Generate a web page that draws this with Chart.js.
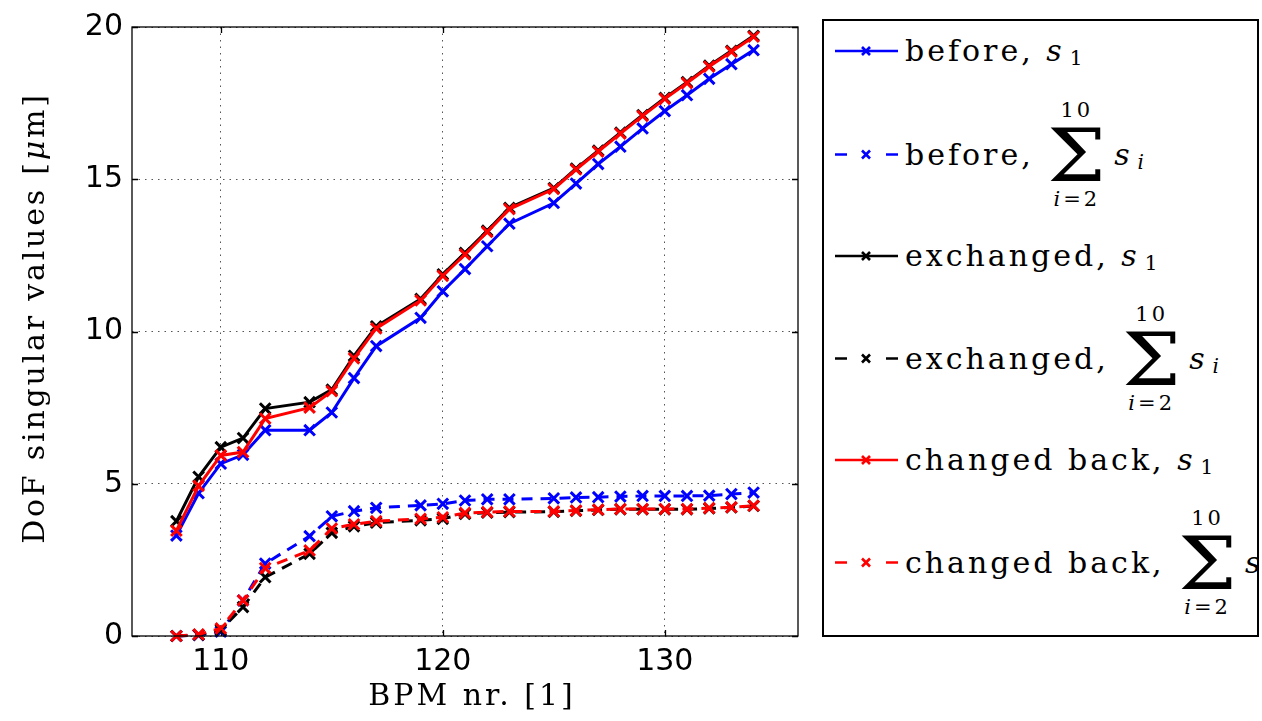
<!DOCTYPE html>
<html lang="en">
<head>
<meta charset="UTF-8">
<title>DoF singular values</title>
<script src="https://cdn.jsdelivr.net/npm/chart.js"></script>
<style>
    body {
        margin: 0;
        width: 1262px;
        height: 721px;
        overflow: hidden;
        position: relative;
        background: #fff;
        font-family: "DejaVu Serif", serif;
        color: #000;
    }
    #chart {
        position: absolute;
        left: 0;
        top: 0;
    }
    .axis-title {
        position: absolute;
        font-size: 30px;
        line-height: 1;
        letter-spacing: 3px;
        white-space: nowrap;
        text-align: center;
    }
    #xtitle {
        left: 272px;
        width: 400px;
        top: 680px;
    }
    #ytitle {
        left: -266px;
        top: 298px;
        width: 600px;
        height: 40px;
        line-height: 40px;
        letter-spacing: 2.8px;
        transform: rotate(-90deg);
    }
    #legend {
        position: absolute;
        left: 822px;
        top: 19px;
        width: 437px;
        height: 618px;
        border: 2px solid #000;
        box-sizing: border-box;
        overflow: hidden;
    }
    .row {
        position: absolute;
        left: 11px;
        display: flex;
        align-items: center;
        transform: translateY(-50%);
        white-space: nowrap;
        font-size: 30px;
        line-height: 1;
        letter-spacing: 3px;
    }
    .row svg {
        margin-right: 7px;
    }
    .sub {
        font-size: 20px;
        letter-spacing: 0;
        position: relative;
        top: 7px;
        margin-left: 5px;
    }
    .sum {
        display: inline-flex;
        flex-direction: column;
        align-items: center;
        letter-spacing: 0;
        margin: 0 12px 0 5px;
    }
    .lim {
        font-size: 21px;
        letter-spacing: 3px;
        line-height: 22px;
    }
    .sig {
        display: block;
        font-size: 72px;
        height: 54px;
        line-height: 54px;
        margin: 7px 0 6px 0;
        position: relative;
        top: 1px;
        transform: scaleX(1.15);
    }
</style>
</head>
<body>
<canvas id="chart" width="810" height="721"></canvas>
<div id="xtitle" class="axis-title">BPM nr. [1]</div>
<div id="ytitle" class="axis-title">DoF singular values [<i>μ</i>m]</div>
<div id="legend"></div>
<script>
    // BPM numbers (113, 118 and 124 are missing in the data)
    const bpm = [108, 109, 110, 111, 112, 114, 115, 116, 117, 119, 120, 121, 122, 123, 125, 126, 127, 128, 129, 130, 131, 132, 133, 134];

    const beforeS1 = [3.30, 4.69, 5.66, 5.95, 6.76, 6.76, 7.34, 8.47, 9.52, 10.45, 11.32, 12.05, 12.80, 13.54, 14.22, 14.86, 15.50, 16.07, 16.67, 17.24, 17.76, 18.30, 18.78, 19.24];
    const beforeSum = [0.00, 0.03, 0.14, 1.17, 2.38, 3.28, 3.93, 4.10, 4.21, 4.29, 4.34, 4.45, 4.49, 4.49, 4.52, 4.55, 4.56, 4.58, 4.60, 4.60, 4.60, 4.61, 4.66, 4.71];
    const exchangedS1 = [3.77, 5.23, 6.20, 6.50, 7.47, 7.68, 8.09, 9.20, 10.17, 11.07, 11.88, 12.58, 13.31, 14.06, 14.71, 15.35, 15.94, 16.53, 17.11, 17.67, 18.19, 18.73, 19.22, 19.71];
    const exchangedSum = [0.00, 0.04, 0.20, 0.95, 1.93, 2.70, 3.39, 3.60, 3.72, 3.80, 3.85, 4.01, 4.05, 4.07, 4.08, 4.11, 4.14, 4.16, 4.16, 4.16, 4.16, 4.19, 4.22, 4.27];
    const backS1 = [3.46, 4.93, 5.93, 6.04, 7.14, 7.50, 8.04, 9.12, 10.10, 11.02, 11.83, 12.53, 13.27, 14.02, 14.68, 15.32, 15.91, 16.50, 17.08, 17.64, 18.16, 18.70, 19.19, 19.68];
    const backSum = [0.00, 0.05, 0.25, 1.17, 2.23, 2.81, 3.53, 3.67, 3.77, 3.85, 3.90, 4.04, 4.07, 4.09, 4.09, 4.12, 4.15, 4.17, 4.17, 4.17, 4.17, 4.20, 4.23, 4.28];

    const xTicks = [110, 120, 130];
    const yTicks = [0, 5, 10, 15, 20];

    // label, values, colour, dashed, sum-type label
    const seriesList = [
        ['before', beforeS1, '#0000ff', false, false],
        ['before', beforeSum, '#0000ff', true, true],
        ['exchanged', exchangedS1, '#000000', false, false],
        ['exchanged', exchangedSum, '#000000', true, true],
        ['changed back', backS1, '#ff0000', false, false],
        ['changed back', backSum, '#ff0000', true, true]
    ];

    // later series on top, like the original plot
    const datasets = seriesList.map((s, i) => ({
        label: s[0],
        data: bpm.map((b, k) => ({ x: b, y: s[1][k] })),
        borderColor: s[2],
        backgroundColor: s[2],
        borderWidth: 3,
        borderDash: s[3] ? [11, 8] : [],
        pointStyle: 'crossRot',
        pointRadius: 7.5,
        pointBorderWidth: 3,
        pointBorderColor: s[2],
        pointHoverRadius: 7.5,
        tension: 0,
        clip: false,
        order: seriesList.length - i
    }));

    // axes box with inward ticks on all four sides
    const boxPlugin = {
        id: 'box',
        afterDatasetsDraw(chart) {
            const ctx = chart.ctx;
            const a = chart.chartArea;
            const x = chart.scales.x;
            const y = chart.scales.y;
            const len = 6;
            ctx.save();
            ctx.strokeStyle = '#000';
            ctx.lineWidth = 1.3;
            ctx.setLineDash([]);
            ctx.strokeRect(a.left, a.top, a.right - a.left, a.bottom - a.top);
            ctx.beginPath();
            xTicks.forEach(v => {
                const px = Math.round(x.getPixelForValue(v)) + 0.5;
                ctx.moveTo(px, a.bottom); ctx.lineTo(px, a.bottom - len);
                ctx.moveTo(px, a.top); ctx.lineTo(px, a.top + len);
            });
            yTicks.forEach(v => {
                const py = Math.round(y.getPixelForValue(v)) + 0.5;
                ctx.moveTo(a.left, py); ctx.lineTo(a.left + len, py);
                ctx.moveTo(a.right, py); ctx.lineTo(a.right - len, py);
            });
            ctx.stroke();
            ctx.restore();
        }
    };

    const tickFont = { family: 'DejaVu Sans', size: 30 };
    const gridOpts = { color: '#555', lineWidth: 1, drawTicks: false };

    new Chart(document.getElementById('chart'), {
        type: 'line',
        data: { datasets: datasets },
        options: {
            responsive: false,
            animation: false,
            events: [],
            layout: { padding: { left: 0, right: 12, top: 21, bottom: 0 } },
            plugins: {
                legend: { display: false },
                tooltip: { enabled: false }
            },
            scales: {
                x: {
                    type: 'linear',
                    min: 106,
                    max: 136,
                    afterBuildTicks: axis => { axis.ticks = xTicks.map(v => ({ value: v })); },
                    afterFit: axis => { axis.height = 85; },
                    grid: gridOpts,
                    border: { display: false, dash: [1.5, 5] },
                    ticks: { font: tickFont, color: '#000', padding: 8, maxRotation: 0 }
                },
                y: {
                    min: 0,
                    max: 20,
                    afterBuildTicks: axis => { axis.ticks = yTicks.map(v => ({ value: v })); },
                    afterFit: axis => { axis.width = 132; },
                    grid: gridOpts,
                    border: { display: false, dash: [1.5, 5] },
                    ticks: { font: tickFont, color: '#000', padding: 9 }
                }
            }
        },
        plugins: [boxPlugin]
    });

    // legend drawn as html because of the sum notation
    const rowY = [51, 154, 256, 358, 460, 562];
    const legend = document.getElementById('legend');
    seriesList.forEach((s, i) => {
        const row = document.createElement('div');
        row.className = 'row';
        row.style.top = (rowY[i] - 21) + 'px';
        const c = s[2];
        const line = s[3]
            ? `<line x1="0" y1="8" x2="12" y2="8"/><line x1="51" y1="8" x2="63" y2="8"/>`
            : `<line x1="0" y1="8" x2="63" y2="8"/>`;
        const svg = `<svg width="63" height="16" stroke="${c}" stroke-width="2.6">${line}` +
            `<line x1="27" y1="4" x2="35" y2="12"/><line x1="27" y1="12" x2="35" y2="4"/></svg>`;
        const math = s[4]
            ? `<span class="sum"><span class="lim">10</span><span class="sig">Σ</span><span class="lim"><i>i</i>=2</span></span><i>s</i><span class="sub"><i>i</i></span>`
            : `<i>s</i><span class="sub">1</span>`;
        row.innerHTML = svg + `<span>${s[0]},&nbsp;</span>` + math;
        legend.appendChild(row);
    });
</script>
</body>
</html>
